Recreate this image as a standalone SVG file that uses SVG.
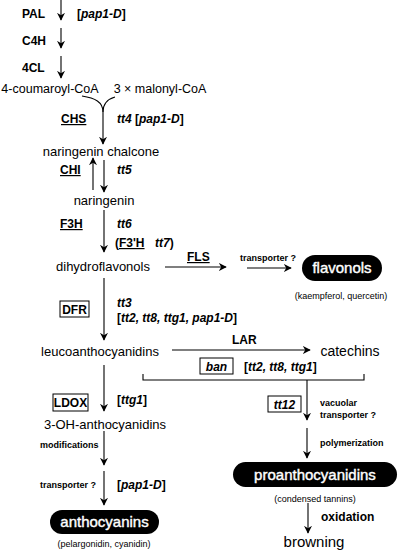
<svg xmlns="http://www.w3.org/2000/svg" width="400" height="550" viewBox="0 0 400 550">
<defs>
<marker id="ah" viewBox="0 0 10 10" refX="9" refY="5" markerWidth="8" markerHeight="8" markerUnits="userSpaceOnUse" orient="auto">
<path d="M0,0 L10,5 L0,10 L3,5 z" fill="#000"/>
</marker>
<style>
text{font-family:"Liberation Sans",Arial,sans-serif;fill:#000}
.m{font-size:13px}
.b{font-size:12px;font-weight:bold}
.bi{font-size:12px;font-weight:bold;font-style:italic}
.s{font-size:9px;font-weight:bold}
.sr{font-size:9px}
.w{font-size:15px;fill:#fff;stroke:#fff;stroke-width:0.4}
.u{text-decoration:underline}
line,path.c{stroke:#000;stroke-width:1.1;fill:none}
.bx{fill:#fff;stroke:#000;stroke-width:1}
</style>
</defs>
<rect width="400" height="550" fill="#fff"/>
<g id="connectors">
<line x1="61" y1="0" x2="61" y2="20" marker-end="url(#ah)"/>
<line x1="61" y1="28" x2="61" y2="48" marker-end="url(#ah)"/>
<line x1="61" y1="56" x2="61" y2="78" marker-end="url(#ah)"/>
<path class="c" d="M82,96 C95,98 103,102 103,112"/>
<path class="c" d="M115,97 C108,99 103,103 103,112"/>
<line x1="103" y1="112" x2="103" y2="144" marker-end="url(#ah)"/>
<line x1="93" y1="190" x2="93" y2="158" marker-end="url(#ah)"/>
<line x1="104" y1="160" x2="104" y2="192" marker-end="url(#ah)"/>
<line x1="104" y1="210" x2="104" y2="252" marker-end="url(#ah)"/>
<line x1="165" y1="267" x2="226" y2="267" marker-end="url(#ah)"/>
<line x1="247" y1="268" x2="291" y2="268" marker-end="url(#ah)"/>
<line x1="104" y1="278" x2="104" y2="340" marker-end="url(#ah)"/>
<line x1="172" y1="350" x2="310" y2="350" marker-end="url(#ah)"/>
<path class="c" d="M143,374 V380 H364 V374"/>
<line x1="307" y1="380" x2="307" y2="420" marker-end="url(#ah)"/>
<line x1="307" y1="428" x2="307" y2="458" marker-end="url(#ah)"/>
<line x1="308" y1="503" x2="308" y2="533" marker-end="url(#ah)"/>
<line x1="104" y1="365" x2="104" y2="411" marker-end="url(#ah)"/>
<line x1="104" y1="431" x2="104" y2="465" marker-end="url(#ah)"/>
<line x1="104" y1="471" x2="104" y2="505" marker-end="url(#ah)"/>
</g>
<g id="labels">
<text class="b" x="22" y="18">PAL</text>
<text class="bi" x="77" y="18"><tspan font-style="normal">[</tspan>pap1-D<tspan font-style="normal">]</tspan></text>
<text class="b" x="22" y="45">C4H</text>
<text class="b" x="22" y="72">4CL</text>
<text class="b u" x="61" y="123">CHS</text>
<text class="bi" x="117" y="123">tt4 <tspan font-style="normal">[</tspan>pap1-D<tspan font-style="normal">]</tspan></text>
<text class="b u" x="60" y="174">CHI</text>
<text class="bi" x="117" y="174">tt5</text>
<text class="b u" x="60" y="228">F3H</text>
<text class="bi" x="117" y="228">tt6</text>
<text class="b" x="115" y="247">(<tspan class="u">F3'H</tspan><tspan x="155" font-style="italic">tt7</tspan>)</text>
<text class="b u" x="187" y="261">FLS</text>
<text class="s" x="240" y="261">transporter ?</text>
<text class="bi" x="117" y="307">tt3</text>
<text class="bi" x="117" y="322"><tspan font-style="normal">[</tspan>tt2, tt8, ttg1, pap1-D<tspan font-style="normal">]</tspan></text>
<text class="b" x="232" y="344">LAR</text>
<text class="bi" x="244" y="371"><tspan font-style="normal">[</tspan>tt2, tt8, ttg1<tspan font-style="normal">]</tspan></text>
<text class="bi" x="117" y="404"><tspan font-style="normal">[</tspan>ttg1<tspan font-style="normal">]</tspan></text>
<text class="s" x="320" y="406">vacuolar</text>
<text class="s" x="320" y="418">transporter ?</text>
<text class="s" x="320" y="446">polymerization</text>
<text class="s" x="40" y="448">modifications</text>
<text class="s" x="40" y="488">transporter ?</text>
<text class="bi" x="117" y="489"><tspan font-style="normal">[</tspan>pap1-D<tspan font-style="normal">]</tspan></text>
<text class="b" x="321" y="521">oxidation</text>
</g>
<g id="n-coumaroyl"><text class="m" x="50" y="93" text-anchor="middle" style="font-size:12.5px">4-coumaroyl-CoA</text></g>
<g id="n-malonyl"><text class="m" x="160" y="93" text-anchor="middle" style="font-size:12.5px">3 × malonyl-CoA</text></g>
<g id="n-chalcone"><text class="m" x="101" y="156" text-anchor="middle">naringenin chalcone</text></g>
<g id="n-naringenin"><text class="m" x="104" y="205" text-anchor="middle">naringenin</text></g>
<g id="n-dihydroflavonols"><text class="m" x="103" y="271" text-anchor="middle">dihydroflavonols</text></g>
<g id="n-flavonols">
<rect x="302" y="255" width="80" height="26" rx="13" fill="#000"/>
<text class="w" x="342" y="273" text-anchor="middle">flavonols</text>
<text class="sr" x="341" y="299" text-anchor="middle">(kaempferol, quercetin)</text>
</g>
<g id="n-dfr"><rect class="bx" x="60" y="301" width="29" height="16"/><text class="b" x="74.5" y="314" text-anchor="middle">DFR</text></g>
<g id="n-leuco"><text class="m" x="100" y="356" text-anchor="middle">leucoanthocyanidins</text></g>
<g id="n-catechins"><text class="m" x="350" y="356" text-anchor="middle" style="font-size:14px">catechins</text></g>
<g id="n-ban"><rect class="bx" x="200" y="358" width="33" height="16"/><text class="bi" x="216.5" y="371" text-anchor="middle">ban</text></g>
<g id="n-ldox"><rect class="bx" x="53" y="394" width="35" height="17"/><text class="b" x="70.5" y="407" text-anchor="middle">LDOX</text></g>
<g id="n-tt12"><rect class="bx" x="268" y="396" width="33" height="16"/><text class="bi" x="284.5" y="409" text-anchor="middle">tt12</text></g>
<g id="n-3oh"><text class="m" x="105" y="429" text-anchor="middle">3-OH-anthocyanidins</text></g>
<g id="n-anthocyanins">
<rect x="50" y="510" width="109" height="24" rx="12" fill="#000"/>
<text class="w" x="104.5" y="527" text-anchor="middle">anthocyanins</text>
<text class="sr" x="104" y="547" text-anchor="middle">(pelargonidin, cyanidin)</text>
</g>
<g id="n-proantho">
<rect x="233" y="462" width="164" height="25" rx="12.5" fill="#000"/>
<text class="w" x="315" y="480" text-anchor="middle">proanthocyanidins</text>
<text class="sr" x="315" y="502" text-anchor="middle">(condensed tannins)</text>
</g>
<g id="n-browning"><text class="m" x="314" y="547" text-anchor="middle" style="font-size:15px">browning</text></g>
</svg>
